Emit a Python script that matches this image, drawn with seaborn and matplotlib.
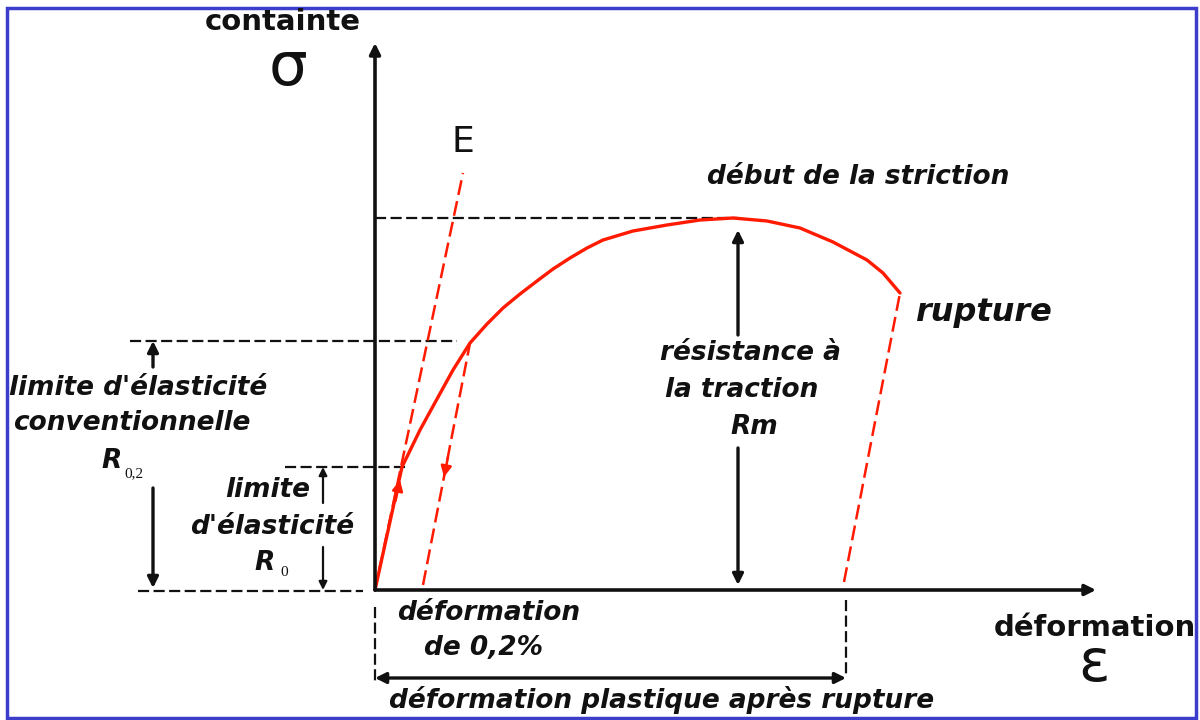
import numpy as np
import pandas as pd
import seaborn as sns
import matplotlib.pyplot as plt
from matplotlib.patches import Rectangle

# ---- data (strain / stress in arbitrary diagram units, origin at axes origin) ----
strain_curve = [0, 27, 45, 62, 78, 95, 112, 128, 145, 162, 178, 195, 212, 228,
                258, 292, 325, 358, 392, 425, 458, 492, 508, 525]
stress_curve = [0, 123, 160, 191, 220, 247, 266, 282, 296, 309, 321, 332, 342, 350,
                359, 365, 370, 372, 369, 362, 348, 330, 317, 297]

elastic_x = [0, 88]          # modulus E line
elastic_y = [0, 417]
offset_x = [48, 95]          # 0.2 % offset line
offset_y = [5, 247]
unload_x = [469, 525]        # elastic unloading after rupture
unload_y = [8, 297]

Rm = 372      # résistance à la traction
R02 = 249     # limite conventionnelle
R0 = 123      # limite d'élasticité
eps_Rm = 363
eps_rupture = 471

sns.set_theme(style="white")
plt.rcParams['font.family'] = ['DejaVu Sans']

fig = plt.figure(figsize=(12, 7.2), dpi=100)
ax = fig.add_axes([0, 0, 1, 1])
ax.set_xlim(-375, 825)
ax.set_ylim(-130, 590)
ax.axis('off')

RED = '#ff1a00'
BLK = '#111111'

# frame
ax.add_patch(Rectangle((0.006, 0.003), 0.991, 0.986, transform=ax.transAxes,
                       fill=False, ec='#3d3dcc', lw=2.5, zorder=0))

# main curve
curve = pd.DataFrame({'strain': strain_curve, 'stress': stress_curve})
sns.lineplot(data=curve, x='strain', y='stress', sort=False, estimator=None,
             color=RED, lw=2.4, ax=ax, zorder=4)
# red dashed lines
for xs, ys in [(elastic_x, elastic_y), (offset_x, offset_y), (unload_x, unload_y)]:
    sns.lineplot(x=xs, y=ys, sort=False, estimator=None, color=RED, lw=1.8,
                 linestyle=(0, (6, 2.5)), ax=ax, zorder=4)

# black dashed guide lines
dash = dict(color=BLK, lw=1.6, linestyle=(0, (5, 2)), zorder=3)
ax.plot([0, eps_Rm], [Rm, Rm], **dash)
ax.plot([-245, 82], [R02, R02], **dash)
ax.plot([-90, 31], [R0, R0], **dash)
ax.plot([-237, -12], [-1, -1], **dash)
ax.plot([0, 0], [-17, -93], **dash)
ax.plot([eps_rupture, eps_rupture], [-10, -87], **dash)


def arrow(x0, y0, x1, y1, color=BLK, lw=2.4, ms=16):
    ax.annotate('', xy=(x1, y1), xytext=(x0, y0),
                arrowprops=dict(arrowstyle='-|>', color=color, lw=lw,
                                mutation_scale=ms, shrinkA=0, shrinkB=0),
                zorder=5)


# axes arrows
arrow(0, 0, 0, 547, lw=2.6)
arrow(0, 0, 721, 0, lw=2.6)
# Rm arrows
arrow(eps_Rm, 255, eps_Rm, 360)
arrow(eps_Rm, 142, eps_Rm, 5)
# R0,2 arrows
arrow(-222, 223, -222, R02)
arrow(-222, 102, -222, 2)
# R0 arrows
arrow(-52, 87, -52, R0, lw=1.6, ms=12)
arrow(-52, 43, -52, 0, lw=1.6, ms=12)
# plastic deformation double arrow
ax.annotate('', xy=(0, -88), xytext=(eps_rupture, -88),
            arrowprops=dict(arrowstyle='<|-|>', color=BLK, lw=2.4,
                            mutation_scale=16, shrinkA=0, shrinkB=0), zorder=5)
# red arrows along loading / unloading
arrow(20.5, 89, 25, 110, color=RED, lw=1.8, ms=16)
arrow(73, 133, 69, 113, color=RED, lw=1.8, ms=16)

# texts
bi = dict(ha='center', va='center', fontweight='bold', fontstyle='italic', color=BLK)
ax.text(-92, 568, 'containte', ha='center', va='center', fontsize=21,
        fontweight='bold', color=BLK)
ax.text(-87, 522, 'σ', ha='center', va='center', fontsize=44, color=BLK)
ax.text(88, 448, 'E', ha='center', va='center', fontsize=26, color=BLK)
ax.text(483, 413, 'début de la striction', fontsize=19, **bi)
ax.text(608, 277, 'rupture', fontsize=23, **bi)
ax.text(375, 237, 'résistance à', fontsize=19, **bi)
ax.text(367, 200, 'la traction', fontsize=19, **bi)
ax.text(379, 163, 'Rm', fontsize=19, **bi)
ax.text(-237, 202, "limite d'élasticité", fontsize=19, **bi)
ax.text(-243, 167, 'conventionnelle', fontsize=19, **bi)
ax.text(-263, 129, 'R', fontsize=19, **bi)
ax.text(-241, 116, '0,2', ha='center', va='center', fontsize=11,
        family=['Liberation Serif'], color=BLK)
ax.text(-107, 100, 'limite', fontsize=19, **bi)
ax.text(-103, 63, "d'élasticité", fontsize=19, **bi)
ax.text(-110, 27, 'R', fontsize=19, **bi)
ax.text(-91, 18, '0', ha='center', va='center', fontsize=11,
        family=['Liberation Serif'], color=BLK)
ax.text(114, -23, 'déformation', fontsize=19, **bi)
ax.text(108, -58, 'de 0,2%', fontsize=19, **bi)
ax.text(287, -110, 'déformation plastique après rupture', fontsize=19, **bi)
ax.text(720, -38, 'déformation', ha='center', va='center', fontsize=21,
        fontweight='bold', color=BLK)
ax.text(719, -75, 'ε', ha='center', va='center', fontsize=42, color=BLK)

fig.savefig('out.png', dpi=100)
